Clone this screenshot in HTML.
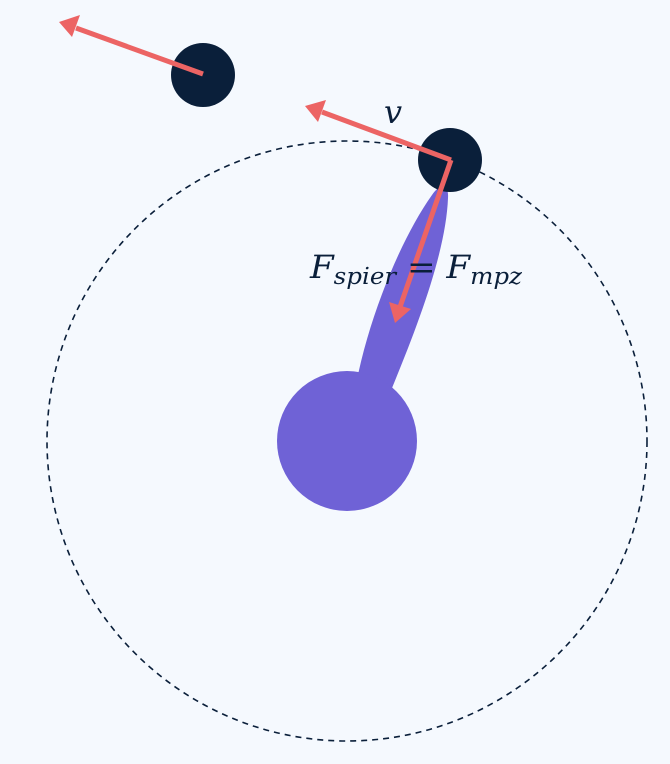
<!DOCTYPE html>
<html><head><meta charset="utf-8"><style>
html,body{margin:0;padding:0;background:#f5f9fe;}
svg{display:block;}
text{font-family:"DejaVu Serif","Liberation Serif",serif;font-style:italic;fill:#0a1f3a;}
</style></head><body>
<svg width="670" height="764" viewBox="0 0 670 764" xmlns="http://www.w3.org/2000/svg">
<rect width="670" height="764" fill="#f5f9fe"/>
<circle cx="347" cy="441" r="300" fill="none" stroke="#0a1f3a" stroke-width="1.6" stroke-dasharray="6,5"/>
<path d="M356,385 C368,320 400,240 432,195 C440,183 449,183 448,198 C446,250 420,320 392,388 Z" fill="#6f62d6"/>
<circle cx="347" cy="441" r="70" fill="#6f62d6"/>
<circle cx="450" cy="160" r="32" fill="#0a1f3a"/>
<circle cx="203" cy="75" r="32" fill="#0a1f3a"/>
<g stroke="#ec6464" stroke-width="5" fill="none">
<line x1="203" y1="74" x2="76" y2="28"/>
<line x1="451" y1="160" x2="322" y2="112"/>
<line x1="451" y1="160" x2="400" y2="307"/>
</g>
<g fill="#ec6464">
<polygon points="59,22 80,15 72,37"/>
<polygon points="305,106 326,100 318,122"/>
<polygon points="395,323 389,302 411,309"/>
</g>
<text x="384" y="123" font-size="32">v</text>
<text x="310" y="278" font-size="32" textLength="212" lengthAdjust="spacingAndGlyphs">F<tspan font-size="23" dy="6">spier</tspan><tspan dy="-6" font-style="normal"> = </tspan>F<tspan font-size="23" dy="6">mpz</tspan></text>
</svg>
</body></html>
